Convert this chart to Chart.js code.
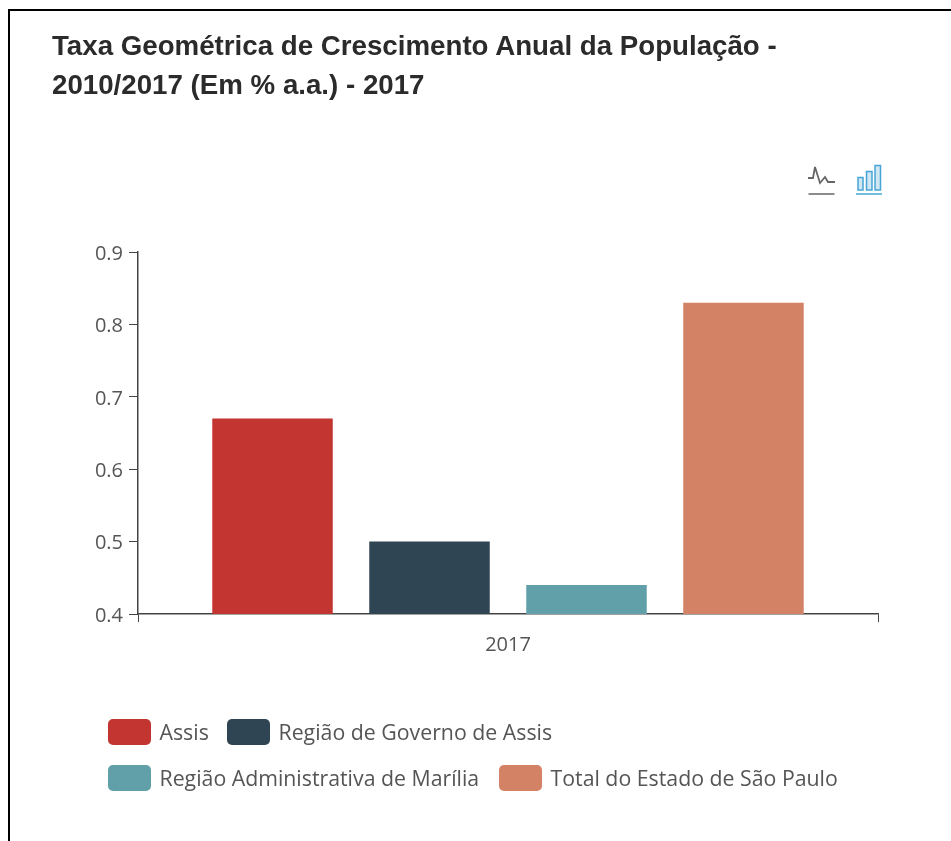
<!DOCTYPE html>
<html lang="pt">
<head>
    <meta charset="UTF-8">
    <title>Taxa Geométrica de Crescimento Anual da População</title>
    <script src="https://cdn.jsdelivr.net/npm/chart.js@4"></script>
    <style>
        html, body { margin: 0; padding: 0; background: #fff; overflow: hidden; }
        #page { position: relative; width: 951px; height: 841px; }
        #frame { position: absolute; left: 8px; top: 9px; right: 0; bottom: 0; border-left: 2px solid #000; border-top: 2px solid #000; }
        #chart { position: absolute; left: 0; top: 0; }
        #title { position: absolute; left: 52px; top: 26px; width: 800px; margin: 0; font: bold 27.7px/39px "Liberation Sans", sans-serif; color: #2b2b2b; }
        #icons { position: absolute; left: 806px; top: 160px; }
        .legend-item { position: absolute; display: flex; align-items: center; font: 21.3px "Open Sans", sans-serif; color: #555; white-space: nowrap; }
        .legend-box { width: 43px; height: 26px; border-radius: 5px; margin-right: 8.5px; }
    </style>
</head>
<body>
<div id="page">
    <div id="frame"></div>
    <canvas id="chart" width="951" height="841"></canvas>
    <h1 id="title">Taxa Geométrica de Crescimento Anual da População -<br>2010/2017 (Em % a.a.) - 2017</h1>
    <svg id="icons" width="80" height="38" fill="none">
        <path d="M2 18h5l2-11 5 16 5-6 3 5h7" stroke="#666" stroke-width="1.800"/>
        <path d="M2.500 34h26" stroke="#666" stroke-width="1.500"/>
        <rect x="52" y="17.500" width="5" height="12.500" fill="#cfe6f3" stroke="#45a5d5" stroke-width="1.500"/>
        <rect x="60.500" y="11.500" width="5.500" height="18.500" fill="#cfe6f3" stroke="#45a5d5" stroke-width="1.500"/>
        <rect x="69" y="5.500" width="5.500" height="24.500" fill="#cfe6f3" stroke="#45a5d5" stroke-width="1.500"/>
        <path d="M50 34h26" stroke="#45a5d5" stroke-width="1.500"/>
    </svg>
    <div id="legend"></div>
</div>
<script>
const categories = ['2017'];
const seriesNames = ['Assis', 'Região de Governo de Assis', 'Região Administrativa de Marília', 'Total do Estado de São Paulo'];
const seriesValues = [[0.67], [0.5], [0.44], [0.83]];
const seriesColors = ['#c23531', '#2f4554', '#61a0a8', '#d48265'];
const yTicks = [0.4, 0.5, 0.6, 0.7, 0.8, 0.9];

const axisColor = '#444';
const tickFont = { family: '"Open Sans", sans-serif', size: 20 };

new Chart(document.getElementById('chart'), {
    type: 'bar',
    data: {
        labels: categories,
        datasets: seriesNames.map((name, i) => ({
            label: name,
            data: seriesValues[i],
            backgroundColor: seriesColors[i],
            categoryPercentage: 0.8486,
            barPercentage: 0.7675
        }))
    },
    options: {
        responsive: false,
        animation: false,
        layout: { padding: { left: 0, right: 73, top: 252, bottom: 181 } },
        plugins: { legend: { display: false }, title: { display: false }, tooltip: { enabled: false } },
        scales: {
            x: {
                afterFit: s => { s.height = 46; },
                grid: { drawOnChartArea: false, color: axisColor, tickLength: 8 },
                border: { color: axisColor, width: 1.5 },
                ticks: { font: tickFont, color: '#555', padding: 11 }
            },
            y: {
                min: 0.4,
                max: 0.9,
                afterFit: s => { s.width = 138; },
                afterBuildTicks: s => { s.ticks = yTicks.map(v => ({ value: v })); },
                grid: { drawOnChartArea: false, color: axisColor, tickLength: 9 },
                border: { color: axisColor, width: 1.5 },
                ticks: { font: tickFont, color: '#555', padding: 6, labelOffset: 2, callback: v => v.toFixed(1) }
            }
        }
    }
});

// legenda em html, duas linhas como no original
const legendSpots = [[108, 718], [227, 718], [108, 764], [499, 764]];
const legend = document.getElementById('legend');
seriesNames.forEach((name, i) => {
    const item = document.createElement('div');
    item.className = 'legend-item';
    item.style.left = legendSpots[i][0] + 'px';
    item.style.top = legendSpots[i][1] - 1 + 'px';
    item.innerHTML = `<span class="legend-box" style="background:${seriesColors[i]}"></span>${name}`;
    legend.appendChild(item);
});
</script>
</body>
</html>
